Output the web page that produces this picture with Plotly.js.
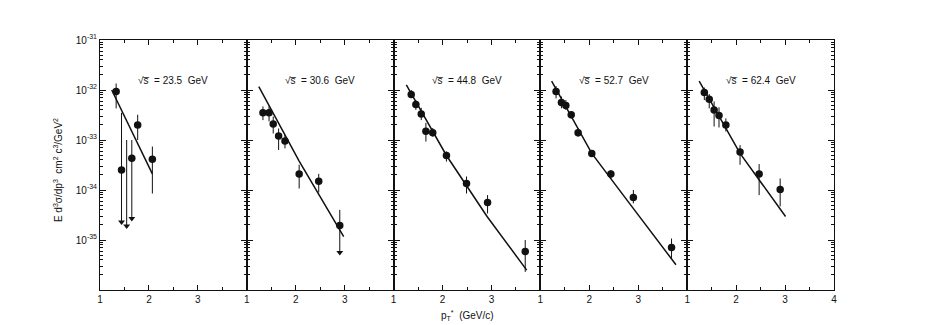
<!DOCTYPE html>
<html>
<head>
<meta charset="utf-8">
<script src="https://cdn.plot.ly/plotly-3.0.1.min.js"></script>
<style>
  body { margin: 0; background: #fff; }
  #chart { width: 938px; height: 325px; }
</style>
</head>
<body>
<div id="chart"></div>
<script>
// Panel labels (one per energy)
const panelTitles = ['√s̅  = 23.5  GeV', '√s̅  = 30.6  GeV', '√s̅  = 44.8  GeV', '√s̅  = 52.7  GeV', '√s̅  = 62.4  GeV'];

// Decade tick labels on the shared y axis
const yTickVals = [1e-31, 1e-32, 1e-33, 1e-34, 1e-35];
const yTickText = ['10<sup>-31</sup>', '10<sup>-32</sup>', '10<sup>-33</sup>', '10<sup>-34</sup>', '10<sup>-35</sup>'];

// --- sqrt(s) = 23.5 GeV ---
const p1X  = [1.33, 1.44, 1.65, 1.77, 2.07];
const p1Y  = [9.3e-33, 2.5e-34, 4.3e-34, 2.0e-33, 4.1e-34];
const p1Hi = [1.35e-32, 3.5e-33, 1.0e-33, 3.2e-33, 7.4e-34];
const p1Lo = [4.3e-33, 2.5e-34, 4.3e-34, 1.0e-33, 8.5e-35];
const p1LimX   = [1.44, 1.545, 1.65];
const p1LimTop = [2.5e-34, 1.0e-33, 4.3e-34];
const p1LimBot = [2.3e-35, 1.9e-35, 2.7e-35];
const p1FitX = [1.24, 2.07];
const p1FitY = [1.0e-32, 2.1e-34];

// --- sqrt(s) = 30.6 GeV ---
const p2X  = [1.33, 1.455, 1.54, 1.65, 1.78, 2.07, 2.47, 2.9];
const p2Y  = [3.5e-33, 3.5e-33, 2.1e-33, 1.2e-33, 9.5e-34, 2.1e-34, 1.5e-34, 1.95e-35];
const p2Hi = [4.7e-33, 4.7e-33, 2.95e-33, 1.7e-33, 1.26e-33, 3.2e-34, 2.1e-34, 4.0e-35];
const p2Lo = [2.5e-33, 2.35e-33, 1.35e-33, 6.3e-34, 6.8e-34, 1.07e-34, 8.9e-35, 1.95e-35];
const p2LimX   = [2.9];
const p2LimTop = [1.95e-35];
const p2LimBot = [5.6e-36];
const p2FitX = [1.245, 2.07, 2.98];
const p2FitY = [1.17e-32, 3.8e-34, 1.17e-35];

// --- sqrt(s) = 44.8 GeV ---
const p3X  = [1.36, 1.455, 1.565, 1.66, 1.80, 2.08, 2.49, 2.92, 3.69];
const p3Y  = [8.1e-33, 5.1e-33, 3.3e-33, 1.5e-33, 1.4e-33, 4.9e-34, 1.35e-34, 5.6e-35, 5.9e-36];
const p3Hi = [1.0e-32, 6.3e-33, 4.4e-33, 2.2e-33, 1.74e-33, 5.9e-34, 1.86e-34, 7.9e-35, 1.0e-35];
const p3Lo = [6.9e-33, 4.0e-33, 2.5e-33, 9.3e-34, 1.17e-33, 3.7e-34, 8.5e-35, 3.4e-35, 2.3e-36];
const p3FitX = [1.26, 2.08, 2.91, 3.72];
const p3FitY = [1.26e-32, 4.9e-34, 2.95e-35, 2.5e-36];

// --- sqrt(s) = 52.7 GeV ---
const p4X  = [1.32, 1.43, 1.52, 1.63, 1.77, 2.05, 2.44, 2.90, 3.68];
const p4Y  = [9.3e-33, 5.6e-33, 4.9e-33, 3.2e-33, 1.4e-33, 5.4e-34, 2.1e-34, 7.1e-35, 7.1e-36];
const p4Hi = [1.2e-32, 7.4e-33, 6.3e-33, 3.7e-33, 1.7e-33, 6.3e-34, 2.5e-34, 1.0e-34, 1.07e-35];
const p4Lo = [6.8e-33, 4.3e-33, 4.0e-33, 2.7e-33, 1.17e-33, 4.7e-34, 1.7e-34, 5.4e-35, 4.3e-36];
const p4FitX = [1.23, 2.05, 2.82, 3.77];
const p4FitY = [1.5e-32, 5.4e-34, 5.4e-35, 3.2e-36];

// --- sqrt(s) = 62.4 GeV ---
const p5X  = [1.35, 1.45, 1.55, 1.65, 1.79, 2.08, 2.47, 2.90];
const p5Y  = [8.9e-33, 6.5e-33, 4.0e-33, 3.1e-33, 2.0e-33, 5.75e-34, 2.1e-34, 1.02e-34];
const p5Hi = [1.12e-32, 8.3e-33, 5.9e-33, 4.5e-33, 2.7e-33, 7.9e-34, 3.3e-34, 1.7e-34];
const p5Lo = [6.3e-33, 4.3e-33, 1.86e-33, 1.78e-33, 1.48e-33, 3.2e-34, 7.9e-35, 4.7e-35];
const p5FitX = [1.245, 2.08, 3.01];
const p5FitY = [1.5e-32, 5.4e-34, 2.95e-35];

const panels = [
  {x: p1X, y: p1Y, hi: p1Hi, lo: p1Lo, fitX: p1FitX, fitY: p1FitY, limX: p1LimX, limTop: p1LimTop, limBot: p1LimBot},
  {x: p2X, y: p2Y, hi: p2Hi, lo: p2Lo, fitX: p2FitX, fitY: p2FitY, limX: p2LimX, limTop: p2LimTop, limBot: p2LimBot},
  {x: p3X, y: p3Y, hi: p3Hi, lo: p3Lo, fitX: p3FitX, fitY: p3FitY},
  {x: p4X, y: p4Y, hi: p4Hi, lo: p4Lo, fitX: p4FitX, fitY: p4FitY},
  {x: p5X, y: p5Y, hi: p5Hi, lo: p5Lo, fitX: p5FitX, fitY: p5FitY}
];

const ink = '#111';
const fontFamily = 'Liberation Sans, Arial, sans-serif';

// minor log ticks (2..9 in each decade)
const yMinor = [];
for (let e = -36; e < -31; e++) {
  for (let m = 2; m <= 9; m++) yMinor.push(m * Math.pow(10, e));
}

const data = [];
const layout = {
  width: 938,
  height: 325,
  margin: {l: 100, r: 104, t: 40, b: 35},
  paper_bgcolor: '#fff',
  plot_bgcolor: '#fff',
  showlegend: false,
  font: {family: fontFamily, color: ink, size: 10},
  annotations: []
};

panels.forEach(function(p, i) {
  const n = i === 0 ? '' : String(i + 1);
  const xa = 'x' + n;
  const ya = 'y' + n;

  // fitted curve
  data.push({
    x: p.fitX, y: p.fitY, xaxis: xa, yaxis: ya,
    type: 'scatter', mode: 'lines',
    line: {color: ink, width: 1.5}, hoverinfo: 'skip'
  });

  // measured points with error bars
  data.push({
    x: p.x, y: p.y, xaxis: xa, yaxis: ya,
    type: 'scatter', mode: 'markers',
    marker: {color: ink, size: 7.5},
    error_y: {
      type: 'data', symmetric: false,
      array: p.y.map((v, k) => p.hi[k] - v),
      arrayminus: p.y.map((v, k) => v - p.lo[k]),
      color: ink, thickness: 1, width: 0
    }
  });

  // upper limits drawn as downward arrows
  if (p.limX) {
    data.push({
      x: p.limX, y: p.limBot, xaxis: xa, yaxis: ya,
      type: 'scatter', mode: 'markers',
      marker: {color: ink, size: 6, symbol: 'triangle-down'},
      error_y: {
        type: 'data', symmetric: false,
        array: p.limBot.map((v, k) => p.limTop[k] - v),
        arrayminus: p.limBot.map(() => 0),
        color: ink, thickness: 1, width: 0
      }
    });
  }

  layout['xaxis' + n] = {
    domain: [i / 5, (i + 1) / 5],
    anchor: ya,
    range: [1, 4],
    tickmode: 'array',
    tickvals: i === 4 ? [1, 2, 3, 4] : [1, 2, 3],
    ticks: 'inside', ticklen: 5, tickcolor: ink,
    minor: {tickmode: 'array', tickvals: [1.5, 2.5, 3.5], ticks: 'inside', ticklen: 3, tickcolor: ink},
    showline: true, linecolor: ink, linewidth: 1, mirror: 'ticks',
    showgrid: false, zeroline: false,
    tickfont: {size: 10, color: ink}
  };

  layout['yaxis' + n] = {
    domain: [0, 1],
    anchor: xa,
    type: 'log',
    range: [-36, -31],
    tickmode: 'array',
    tickvals: yTickVals,
    ticktext: yTickText,
    showticklabels: i === 0,
    ticks: 'inside', ticklen: 6, tickcolor: ink,
    minor: {tickmode: 'array', tickvals: yMinor, ticks: 'inside', ticklen: 3, tickcolor: ink},
    showline: true, linecolor: ink, linewidth: 1, mirror: 'ticks',
    showgrid: false, zeroline: false,
    tickfont: {size: 10, color: ink}
  };
  if (i > 0) layout['yaxis' + n].matches = 'y';

  // panel energy label
  layout.annotations.push({
    text: panelTitles[i],
    xref: xa, x: 2.5,
    yref: 'paper', y: 0.868,
    showarrow: false,
    font: {size: 10, color: ink, family: fontFamily}
  });
});

// y axis title
layout.annotations.push({
  text: 'E d<sup>3</sup>σ/dp<sup>3</sup>  cm<sup>2</sup> c<sup>3</sup>/GeV<sup>2</sup>',
  xref: 'paper', x: -0.068,
  yref: 'paper', y: 0.48,
  textangle: -90,
  showarrow: false,
  font: {size: 10, color: ink, family: fontFamily}
});

// x axis title
layout.annotations.push({
  text: 'p<sub>T</sub><sup>*</sup>  (GeV/c)',
  xref: 'paper', x: 0.5,
  yref: 'paper', y: -0.1,
  yanchor: 'middle',
  showarrow: false,
  font: {size: 10, color: ink, family: fontFamily}
});

Plotly.newPlot('chart', data, layout, {displayModeBar: false, staticPlot: true});
</script>
</body>
</html>
